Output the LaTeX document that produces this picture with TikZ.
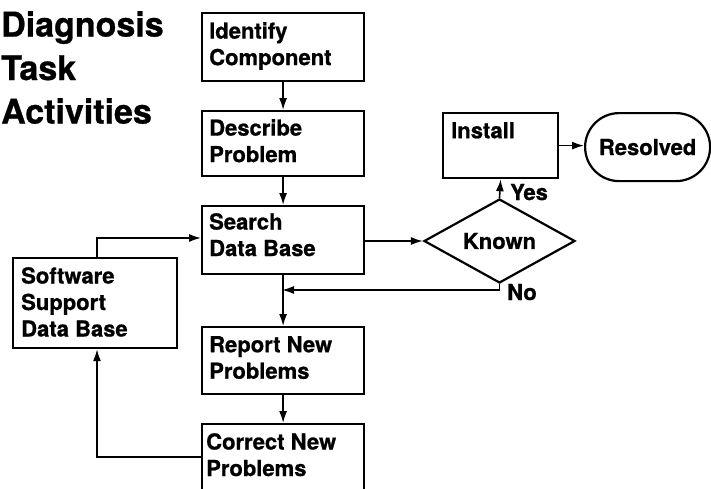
\documentclass[tikz,border=0pt]{standalone}
\usepackage{fontspec}
\setmainfont[BoldFeatures={FakeBold=0.8}]{TeX Gyre Heros}
\usetikzlibrary{arrows.meta,shapes.geometric}
\tikzset{
  box/.style={draw, line width=2.2pt, rectangle, inner sep=0pt, anchor=north west},
  txt/.style={inner sep=0pt, anchor=north west, align=left, font=\fontsize{22}{26.5}\selectfont\bfseries},
  lbl/.style={inner sep=0pt, font=\fontsize{22}{26.5}\selectfont\bfseries},
  arr/.style={line width=1.6pt, -{Latex[length=12pt,width=8pt]}},
}
\begin{document}
\begin{tikzpicture}[x=1pt,y=-1pt]
\path[use as bounding box, clip] (0,0) rectangle (711,488);
\fill[white] (0,0) rectangle (711,488);
% title
\node[inner sep=0pt, anchor=north west, align=left, font=\fontsize{34}{43.5}\selectfont\bfseries] (title) at (1,11) {Diagnosis\\Task\\Activities};
% boxes
\node[box, minimum width=162pt, minimum height=68pt] (id) at (201,12) {};
\node[box, minimum width=162pt, minimum height=65pt] (desc) at (201,110) {};
\node[box, minimum width=162pt, minimum height=68pt] (search) at (201,205) {};
\node[box, minimum width=162pt, minimum height=67pt] (report) at (201,326) {};
\node[box, minimum width=162pt, minimum height=80pt] (correct) at (201,423) {};
\node[box, minimum width=164pt, minimum height=90pt] (soft) at (12,257) {};
\node[box, minimum width=115pt, minimum height=65pt] (install) at (442,112) {};
\node[box, minimum width=125pt, minimum height=68pt, rounded corners=34pt] (resolved) at (584,112) {};
\node[draw, line width=2.2pt, diamond, inner sep=0pt, minimum width=151pt, minimum height=84pt] (known) at (499.5,241) {};
% texts
\node[txt] (idt) at ([shift={(8,10)}]id.north west) {Identify\\Component};
\node[txt] (desct) at ([shift={(8,9)}]desc.north west) {Describe\\Problem};
\node[txt] (searcht) at ([shift={(8,8)}]search.north west) {Search\\Data Base};
\node[txt] (reportt) at ([shift={(8,10)}]report.north west) {Report New\\Problems};
\node[txt] (correctt) at ([shift={(5,10)}]correct.north west) {Correct New\\Problems};
\node[txt] (softt) at ([shift={(9,10)}]soft.north west) {Software\\Support\\Data Base};
\node[txt] (installt) at ([shift={(9,10)}]install.north west) {Install};
\node[lbl] (resolvedt) at (resolved.center) {Resolved};
\node[lbl] (knownt) at (known.center) {Known};
\node[lbl, anchor=base west] (yes) at (510,200) {Yes};
\node[lbl, anchor=base west] (no) at (507,300) {No};
% connectors
\draw[arr] (id) -- (desc);
\draw[arr] (desc) -- (search);
\draw[arr] (search) -- (report);
\draw[arr] (report) -- (correct);
\draw[arr] (known.west -| search.east) -- (known.west);
\draw[arr] (known.north) -- (install.south);
\draw[arr] (install.east) -- (install.east -| resolved.west);
\coordinate (nj) at (282,290);
\draw[arr] (known.south) |- (nj);
\coordinate (ss) at (97,238);
\draw[arr] (soft.north -| ss) -- (ss) -- (ss -| search.west);
\coordinate (cs) at (97,457);
\draw[arr] (cs -| correct.west) -- (cs) -- (cs |- soft.south);
\end{tikzpicture}
\end{document}
